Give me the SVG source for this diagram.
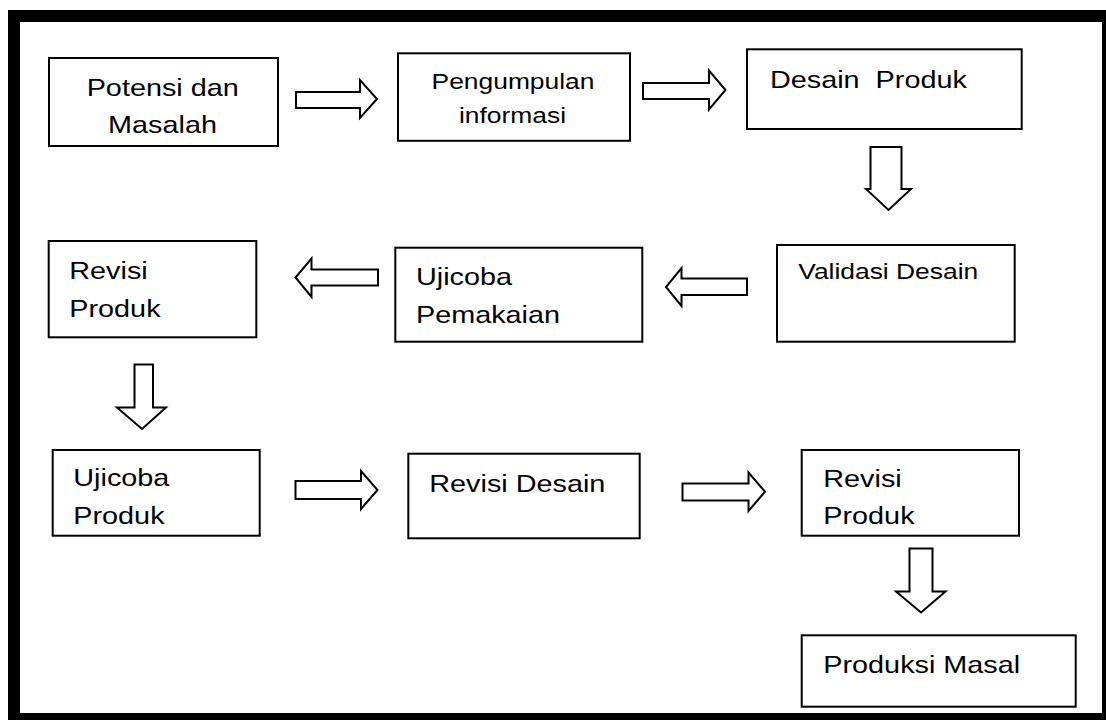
<svg xmlns="http://www.w3.org/2000/svg" width="1106" height="720" viewBox="0 0 1106 720">
  <defs>
    <style>
      .box { fill: #ffffff; stroke: #000000; stroke-width: 2; }
      .arr { fill: #ffffff; stroke: #000000; stroke-width: 2; stroke-linejoin: miter; }
      .t { font-family: "Liberation Sans", Arial, sans-serif; font-size: 24px; fill: #000000; }
      .s { font-size: 22px; }
      .c { text-anchor: middle; }
    </style>
    <clipPath id="clipRow3">
      <rect x="0" y="0" width="1106" height="524"/>
    </clipPath>
  </defs>
  <rect x="0" y="0" width="1106" height="720" fill="#ffffff"/>
  <path id="frame" fill="#000000" fill-rule="evenodd" d="M8,10 H1106 V720 H8 Z M20,22 V713 H1102 V22 Z"/>

  <g id="connectors">
    <polygon class="arr" points="296,92 360,92 360,80 377,99 360,118 360,108 296,108"/>
    <polygon class="arr" points="643,83 709,83 709,70.5 725.5,90 709,109.5 709,99 643,99"/>
    <polygon class="arr" points="870.5,147 901.5,147 901.5,189 911,189 888.5,210 866,189 870.5,189"/>
    <polygon class="arr" points="747,278.5 681.5,278.5 681.5,268 666,287 681.5,306 681.5,295 747,295"/>
    <polygon class="arr" points="378,269.5 311.5,269.5 311.5,258.5 295.5,277.5 311.5,297 311.5,285.5 378,285.5"/>
    <polygon class="arr" points="134.5,364.5 153,364.5 153,407.5 166,407.5 142,429 117,407.5 134.5,407.5"/>
    <polygon class="arr" points="295.5,481 361,481 361,471 377.5,490 361,509 361,499 295.5,499"/>
    <polygon class="arr" points="682.5,483.5 748.5,483.5 748.5,472.5 765,491.7 748.5,511 748.5,500.5 682.5,500.5"/>
    <polygon class="arr" points="909.5,548.5 932.5,548.5 932.5,591.5 945.5,591.5 921,612.5 896,591.5 909.5,591.5"/>
  </g>

  <g id="potensi">
    <rect class="box" x="49" y="58" width="229" height="88"/>
    <text class="t c" transform="translate(162.7,96) scale(1.2,1)">Potensi dan</text>
    <text class="t c" transform="translate(162.5,133) scale(1.2,1)">Masalah</text>
  </g>
  <g id="pengumpulan">
    <rect class="box" x="398" y="53.3" width="232" height="87.5"/>
    <text class="t s c" transform="translate(513,89.3) scale(1.2,1)">Pengumpulan</text>
    <text class="t s c" transform="translate(512.5,123.3) scale(1.2,1)">informasi</text>
  </g>
  <g id="desain-produk">
    <rect class="box" x="747" y="49.3" width="274.7" height="79.7"/>
    <text class="t" xml:space="preserve" transform="translate(770,88.3) scale(1.2,1)">Desain  Produk</text>
  </g>
  <g id="validasi-desain">
    <rect class="box" x="777" y="245" width="237.7" height="96.7"/>
    <text class="t s" transform="translate(798.3,279.3) scale(1.2,1)">Validasi Desain</text>
  </g>
  <g id="ujicoba-pemakaian">
    <rect class="box" x="395.3" y="247.7" width="247" height="94"/>
    <text class="t" transform="translate(416,285) scale(1.2,1)">Ujicoba</text>
    <text class="t" transform="translate(416,323.3) scale(1.2,1)">Pemakaian</text>
  </g>
  <g id="revisi-produk-1">
    <rect class="box" x="48.7" y="241" width="207.6" height="96.3"/>
    <text class="t" transform="translate(69.3,279.3) scale(1.2,1)">Revisi</text>
    <text class="t" transform="translate(69.3,316.7) scale(1.2,1)">Produk</text>
  </g>
  <g id="ujicoba-produk">
    <rect class="box" x="52.7" y="450" width="207" height="85.7"/>
    <text class="t" transform="translate(73.3,486) scale(1.2,1)">Ujicoba</text>
    <g clip-path="url(#clipRow3)">
      <text class="t" transform="translate(73.3,524.3) scale(1.2,1)">Produk</text>
    </g>
  </g>
  <g id="revisi-desain">
    <rect class="box" x="408.3" y="453.7" width="231.4" height="84.6"/>
    <text class="t" transform="translate(429.3,491.7) scale(1.2,1)">Revisi Desain</text>
  </g>
  <g id="revisi-produk-2">
    <rect class="box" x="801.7" y="450" width="217.3" height="85.7"/>
    <text class="t" transform="translate(823.3,486.7) scale(1.2,1)">Revisi</text>
    <g clip-path="url(#clipRow3)">
      <text class="t" transform="translate(823.3,524.3) scale(1.2,1)">Produk</text>
    </g>
  </g>
  <g id="produksi-masal">
    <rect class="box" x="801.7" y="635.3" width="274" height="71.4"/>
    <text class="t" transform="translate(823.3,672.7) scale(1.2,1)">Produksi Masal</text>
  </g>
</svg>
